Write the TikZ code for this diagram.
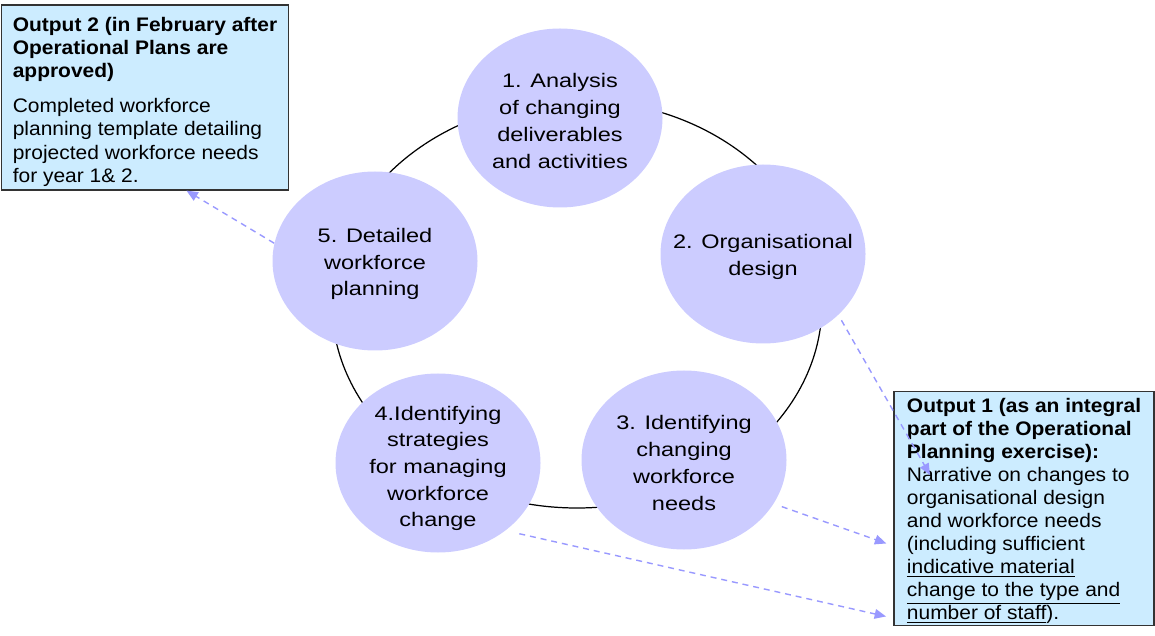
\documentclass[tikz,border=0pt]{standalone}
\usepackage{fontspec}
\setmainfont{Liberation Sans}[FakeStretch = 1.07]
\newfontfamily\ringfont{Liberation Sans}[FakeStretch = 1.2]
\usetikzlibrary{shapes.geometric,arrows.meta}

\definecolor{stagefill}{HTML}{CCCCFF}
\definecolor{notefill}{HTML}{CCECFF}
\definecolor{linkblue}{HTML}{9999FF}

\begin{document}
\begin{tikzpicture}[
  stage/.style = {ellipse, fill = stagefill, minimum width = 4.1cm, minimum height = 3.58cm, inner sep = 0pt},
  stagetext/.style = {font = \ringfont\fontsize{11.15}{15.2}\selectfont, align = center, yshift = -0.06cm},
  output/.style = {draw = black!80, line width = 0.7pt, fill = notefill, align = left, inner xsep = 0.22cm, inner ysep = 1pt, font = \fontsize{11.15}{13.1}\selectfont},
  link/.style = {linkblue, line width = 0.8pt, dash pattern = on 3.4pt off 2.8pt, -{Triangle[length = 6.5pt, width = 5.5pt]}}
]
\useasboundingbox (0, 0) rectangle (23.1, 12.7);
%\draw[very thin, color = gray](0, 0) grid (23, 12);
% the cycle
\draw [line width = 0.7pt] (11.54, 6.62) ellipse [x radius = 4.9, y radius = 4.08];
\node [stage] (s1) at (11.2, 10.34) {};
\node [stage] (s2) at (15.26, 7.62) {};
\node [stage] (s3) at (13.68, 3.5) {};
\node [stage] (s4) at (8.76, 3.44) {};
\node [stage] (s5) at (7.5, 7.48) {};
\node [stagetext] (t1) at (s1) {1. Analysis\\of changing\\deliverables\\and activities};
\node [stagetext] (t2) at (s2) {2. Organisational\\design};
\node [stagetext] (t3) at (s3) {3. Identifying\\changing\\workforce\\needs};
\node [stagetext, yshift = -0.05cm] (t4) at (s4) {4.Identifying\\strategies\\for managing\\workforce\\change};
\node [stagetext] (t5) at (s5) {5. Detailed\\workforce\\planning};
% outputs
\node [output, minimum width = 5.68cm, minimum height = 3.7cm] (out2) at (2.9, 10.75) {\rule{0pt}{10.8pt}\textbf{Output 2 (in February after}\\\textbf{Operational Plans are}\\\textbf{approved)}\\[6.8pt]Completed workforce\\planning template detailing\\projected workforce needs\\\smash{for year 1\& 2.}};
\node [output, minimum width = 5.2cm, minimum height = 4.66cm] (out1) at (20.48, 2.53) {\rule{0pt}{10.6pt}\textbf{Output 1 (as an integral}\\\textbf{part of the Operational}\\\textbf{Planning exercise):}\\Narrative on changes to\\organisational design\\and workforce needs\\(including sufficient\\\underline{indicative material}\\\underline{change to the type and}\\\underline{number of staff}).};
\coordinate (tip2) at (18.6, 3.2);
\draw [link] (s5.170) -- (out2.-66);
\draw [link, shorten <= 0.12cm] (s2.-39) -- (tip2);
\draw [link, shorten <= 0.17cm, shorten >= 0.15cm] (s3.-26) -- (out1.196);
\draw [link, shorten <= 0.28cm, shorten >= 0.15cm] (s4.-45) -- (out1.220);
\end{tikzpicture}
\end{document}
